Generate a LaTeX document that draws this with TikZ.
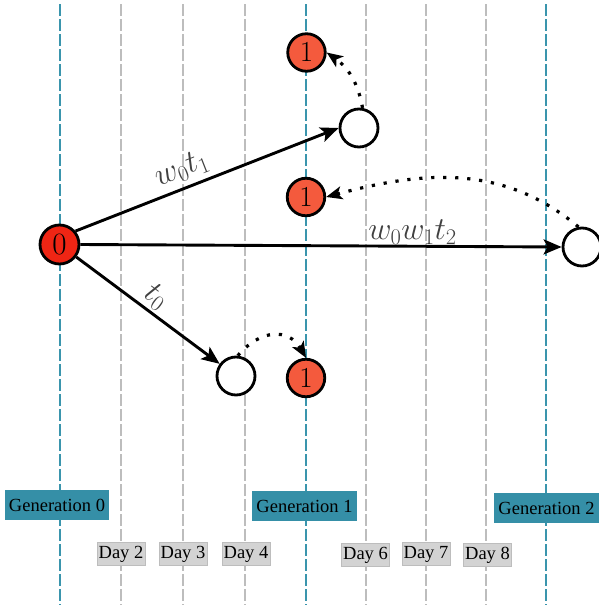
\RequirePackage{fix-cm}
\documentclass[tikz,border=0pt]{standalone}
\usepackage[no-math]{fontspec}
\setmainfont{Liberation Serif}
\usetikzlibrary{arrows.meta}
\definecolor{genteal}{HTML}{358FA7}
\definecolor{linteal}{HTML}{3A95AD}
\definecolor{daygray}{HTML}{D3D3D3}
\definecolor{dayedge}{HTML}{BDBDBD}
\definecolor{vgray}{HTML}{BDBDBD}
\definecolor{zerored}{HTML}{EF2514}
\definecolor{onered}{HTML}{F45A3D}
\begin{document}
\begin{tikzpicture}[x=1pt,y=1pt,
  genline/.style={linteal, line width=1.8pt, dash pattern=on 12pt off 3pt},
  dayline/.style={vgray, line width=1.7pt, dash pattern=on 12pt off 3pt},
  zero/.style={circle, draw=black, line width=2.8pt, fill=zerored, minimum size=39pt, inner sep=0pt, font=\fontsize{31}{31}\selectfont},
  one/.style={circle, draw=black, line width=2.8pt, fill=onered, minimum size=37.5pt, inner sep=0pt, font=\fontsize{29}{29}\selectfont},
  emptynode/.style={circle, draw=black, line width=2.8pt, fill=white, minimum size=38pt, inner sep=0pt},
  gen/.style={fill=genteal, inner xsep=4pt, inner ysep=0pt, minimum height=30pt, font=\fontsize{18.5}{20}\selectfont},
  day/.style={fill=daygray, draw=dayedge, line width=0.8pt, inner xsep=1.6pt, inner ysep=0pt, minimum height=23.5pt, font=\fontsize{18.5}{20}\selectfont},
  arr/.style={line width=2.9pt, -{Stealth[length=18pt,width=15pt,inset=4pt]}},
  dotarr/.style={line width=3.2pt, dash pattern=on 3.2pt off 8.8pt, -{Stealth[length=16pt,width=13pt,inset=4pt]}},
  lab/.style={text=black!75, font=\fontsize{32}{32}\selectfont, sloped}
]
\useasboundingbox (0,0) rectangle (599,-605);
% timeline lines
\foreach \x in {121,183,245,366,426,486} \draw[dayline] (\x,-4) -- (\x,-605);
\draw[genline] (60,-4) -- (60,-605);
\draw[genline] (306,-4) -- (306,-605);
\draw[genline] (546,-4) -- (546,-605);
% nodes
\node[zero] (n0) at (59.5,-244.5) {$0$};
\node[one] (n1t) at (306.5,-52.5) {$1$};
\node[emptynode] (e1) at (359,-128) {};
\node[one] (n1m) at (306,-197) {$1$};
\node[emptynode] (e2) at (582,-247) {};
\node[emptynode] (e3) at (236,-376) {};
\node[one] (n1b) at (306,-378) {$1$};
% labels
\node[gen] (g0) at (57,-505) {Generation 0};
\node[gen] (g1) at (304.5,-506) {Generation 1};
\node[gen] (g2) at (546.5,-508) {Generation 2};
\node[day] (d2) at (121,-554) {Day 2};
\node[day] (d3) at (183,-554) {Day 3};
\node[day] (d4) at (246,-554) {Day 4};
\node[day] (d6) at (365.5,-555) {Day 6};
\node[day] (d7) at (426,-554) {Day 7};
\node[day] (d8) at (487.5,-555) {Day 8};
% connectors
\draw[arr] (n0.40) -- node[lab, above=2pt, pos=0.43] (l1) {$w_0t_1$} (e1.west);
\draw[arr] (n0.east) -- node[lab, above, inner sep=0.5pt, pos=0.69] (l2) {$w_0w_1t_2$} (e2.west);
\draw[arr] (n0) -- node[lab, above, inner sep=2pt, pos=0.49] (l3) {$t_0$} (e3);
\draw[dotarr] (e1.80) to[out=100,in=-35] (n1t.east);
\draw[dotarr] (e2.100) to[out=140,in=15] (n1m.east);
\draw[dotarr] (e3.85) to[out=50,in=120,looseness=1.3] (n1b.north);
\end{tikzpicture}
\end{document}
